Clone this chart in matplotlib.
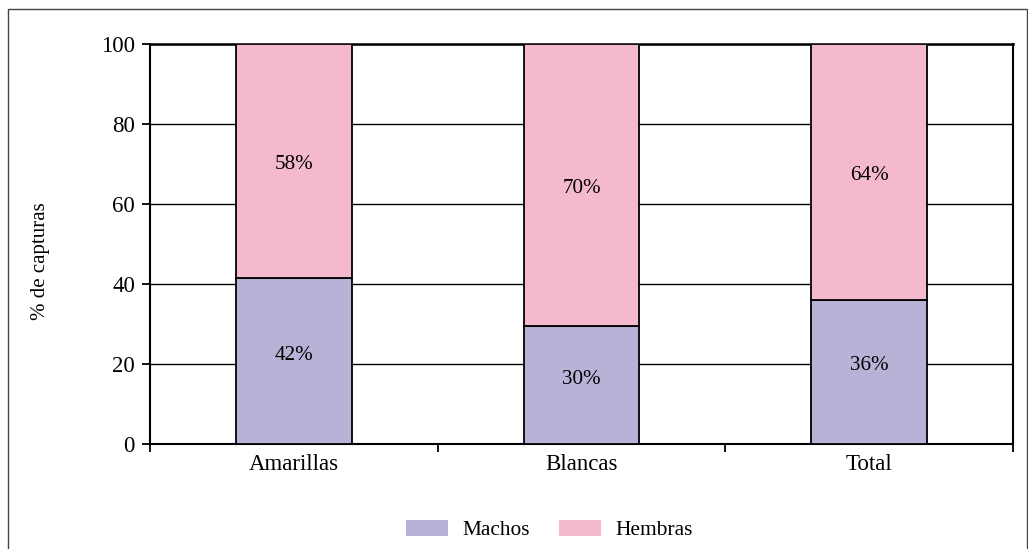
import matplotlib
matplotlib.use("Agg")
import matplotlib.pyplot as plt
from matplotlib.patches import Rectangle, Patch

categories = ["Amarillas", "Blancas", "Total"]
machos = [41.5, 29.5, 36.0]
hembras = [58.5, 70.5, 64.0]
machos_labels = ["42%", "30%", "36%"]
hembras_labels = ["58%", "70%", "64%"]
yticks = [0, 20, 40, 60, 80, 100]

plt.rcParams['font.family'] = ['Liberation Serif', 'DejaVu Serif']

W, H = 1028, 549
fig = plt.figure(figsize=(W / 100, H / 100), dpi=100)
ax = fig.add_axes([150 / W, 1 - 444 / H, (1013 - 150) / W, 400 / H])

c_m = "#b8b3d6"
c_h = "#f4b9ce"
x = list(range(len(categories)))
bw = 0.403
ax.bar(x, machos, bw, color=c_m, edgecolor="black", linewidth=1.3, zorder=3, label="Machos")
ax.bar(x, hembras, bw, bottom=machos, color=c_h, edgecolor="black", linewidth=1.3, zorder=3, label="Hembras")

for i in x:
    ax.text(i, machos[i] / 2 + 1.5, machos_labels[i], ha="center", va="center", fontsize=15.2, zorder=4)
    ax.text(i, machos[i] + hembras[i] / 2 - 0.8, hembras_labels[i], ha="center", va="center", fontsize=15.2, zorder=4)

ax.set_xlim(-0.5, len(categories) - 0.5)
ax.set_ylim(0, 100)
ax.set_yticks(yticks)
ax.set_yticklabels([str(t) for t in yticks], fontsize=16.5)
ax.yaxis.grid(True, color="black", linewidth=1.0, zorder=1)
ax.set_axisbelow(True)

ax.set_xticks([i - 0.5 for i in range(len(categories) + 1)])
ax.set_xticklabels([])
ax.set_xticks(x, minor=True)
ax.set_xticklabels(categories, minor=True, fontsize=16.5)
ax.tick_params(axis="x", which="major", length=5.6, width=1.3, direction="out")
ax.tick_params(axis="x", which="minor", length=0, pad=7)
ax.tick_params(axis="y", length=5.8, width=1.3, direction="out", pad=5)

for s in ax.spines.values():
    s.set_color("black")
    s.set_linewidth(1.5)
ax.spines["top"].set_linewidth(1.8)

fig.text(41 / W, 1 - 261.5 / H, "% de capturas", rotation=90, ha="center", va="center", fontsize=15)

handles = [Patch(facecolor=c_m, edgecolor="none", label="Machos"),
           Patch(facecolor=c_h, edgecolor="none", label="Hembras")]
fig.legend(handles=handles, loc="center", bbox_to_anchor=(549.5 / W, 1 - 530 / H), ncol=2,
           frameon=False, fontsize=15.4, handlelength=1.95, handleheight=0.8,
           handletextpad=0.7, columnspacing=1.35, borderpad=0)

border = Rectangle((8 / W, -0.01), (1027 - 8) / W, 1 - 9 / H + 0.01, transform=fig.transFigure,
                   fill=False, edgecolor="#444444", linewidth=1.0, clip_on=False)
fig.patches.append(border)

fig.savefig("out.png", dpi=100, facecolor="white")
